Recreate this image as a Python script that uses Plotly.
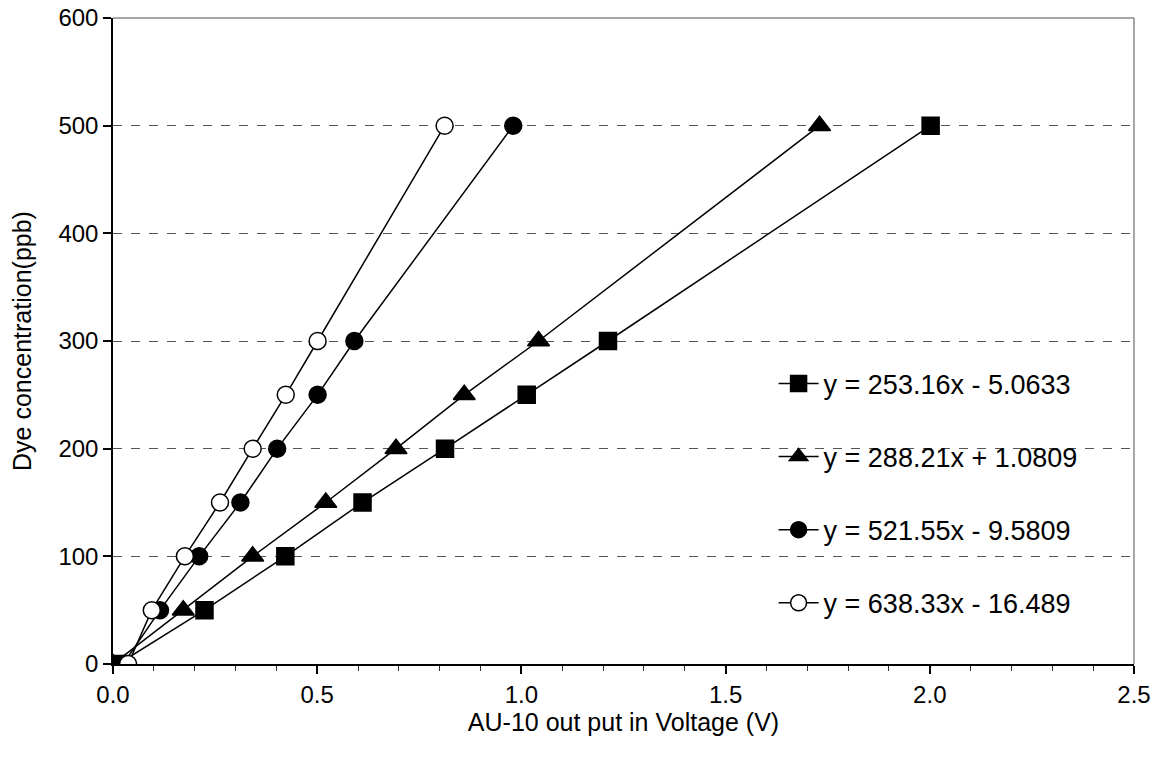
import plotly.graph_objects as go

conc = [0, 50, 100, 150, 200, 250, 300, 500]
v_square = [0.013, 0.224, 0.422, 0.611, 0.813, 1.013, 1.212, 2.002]
v_triangle = [0.000, 0.172, 0.342, 0.521, 0.693, 0.860, 1.042, 1.730]
v_filled = [0.025, 0.115, 0.211, 0.312, 0.402, 0.501, 0.591, 0.980]
v_open = [0.037, 0.095, 0.176, 0.262, 0.342, 0.423, 0.501, 0.812]

labels = [
    "y = 253.16x - 5.0633",
    "y = 288.21x + 1.0809",
    "y = 521.55x - 9.5809",
    "y = 638.33x - 16.489",
]

FONT = "Liberation Sans, Arial, sans-serif"

series = [
    (v_square, labels[0], "square", "black", 17),
    (v_triangle, labels[1], "triangle-up", "black", 19),
    (v_filled, labels[2], "circle", "black", 17),
    (v_open, labels[3], "circle", "white", 17),
]

fig = go.Figure()
for i, (xs, name, sym, fill, size) in enumerate(series):
    fig.add_trace(go.Scatter(
        x=xs, y=conc, name=name, mode="lines+markers",
        legendgroup=f"g{i}",
        line=dict(color="black", width=1.5),
        marker=dict(symbol=sym, size=size, color=fill,
                    line=dict(color="black", width=1.5)),
    ))

fig.update_layout(
    width=1172, height=766,
    margin=dict(l=113, r=38, t=18, b=102),
    paper_bgcolor="white", plot_bgcolor="white",
    font=dict(family=FONT, size=24, color="black"),
    showlegend=True,
    legend=dict(
        x=0.647, xanchor="left", y=0.4715, yanchor="top",
        bgcolor="rgba(0,0,0,0)", borderwidth=0,
        font=dict(family=FONT, size=27),
        traceorder="grouped", tracegroupgap=35,
        itemwidth=40,
    ),
    shapes=[
        dict(type="rect", xref="paper", yref="paper", layer="between",
             x0=0.607, x1=0.994, y0=0.035, y1=0.47,
             fillcolor="white", line=dict(width=0)),
        dict(type="line", xref="paper", yref="paper", x0=0, x1=1, y0=1, y1=1,
             line=dict(color="#888888", width=1.5)),
        dict(type="line", xref="paper", yref="paper", x0=1, x1=1, y0=0, y1=1,
             line=dict(color="#888888", width=1.5)),
    ],
)

fig.update_xaxes(
    range=[0, 2.5], dtick=0.5, tick0=0, tickformat=".1f",
    ticks="outside", ticklen=8, tickwidth=1.5, tickcolor="black",
    minor=dict(dtick=0.1, ticks="outside", ticklen=5, tickwidth=1.2, tickcolor="#333333", showgrid=False),
    showline=True, linecolor="black", linewidth=1.5,
    showgrid=False, zeroline=False, automargin=False,
    title=dict(text="AU-10 out put in Voltage (V)", font=dict(size=25), standoff=6),
    tickfont=dict(size=24),
)
fig.update_yaxes(
    range=[0, 600], dtick=100, tick0=0,
    ticks="outside", ticklen=8, tickwidth=1.5, tickcolor="black",
    showline=True, linecolor="black", linewidth=1.5,
    showgrid=True, gridcolor="#555555", gridwidth=1, griddash="dash",
    zeroline=False, automargin=False,
    title=dict(text="Dye concentration(ppb)", font=dict(size=25), standoff=20),
    tickfont=dict(size=24),
)

fig.write_html("out.html")
